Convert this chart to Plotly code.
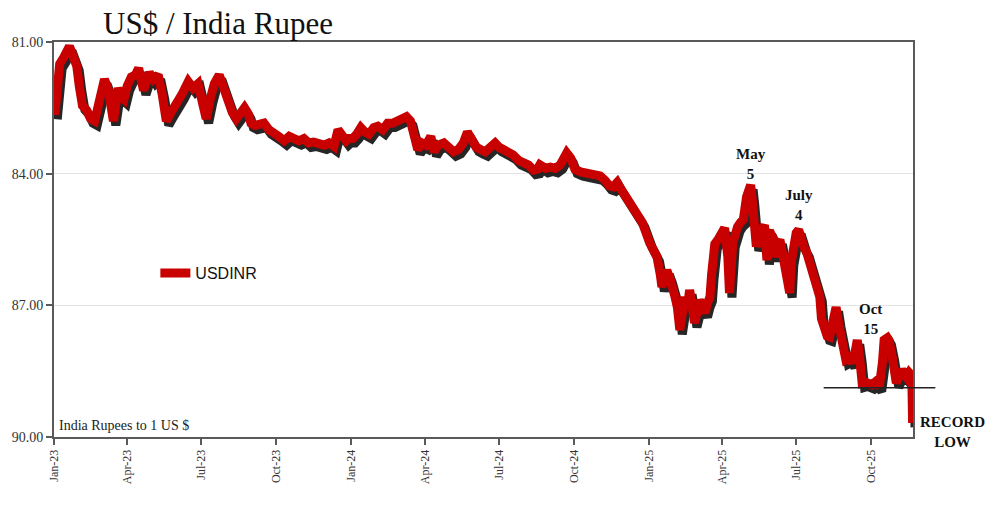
import plotly.graph_objects as go
import datetime as _dt

dates = [
    "2023-01-02", "2023-01-08", "2023-01-13", "2023-01-20", "2023-01-24", "2023-01-29",
    "2023-02-01", "2023-02-05", "2023-02-10", "2023-02-15", "2023-02-20", "2023-02-25",
    "2023-03-04", "2023-03-09", "2023-03-13", "2023-03-15", "2023-03-19", "2023-03-21",
    "2023-03-25", "2023-03-28", "2023-04-01", "2023-04-06", "2023-04-11", "2023-04-15",
    "2023-04-21", "2023-04-25", "2023-04-28", "2023-05-03", "2023-05-09", "2023-05-14",
    "2023-05-19", "2023-05-25", "2023-05-31", "2023-06-07", "2023-06-15", "2023-06-21",
    "2023-06-27", "2023-07-02", "2023-07-07", "2023-07-12", "2023-07-17", "2023-07-23",
    "2023-07-28", "2023-08-03", "2023-08-08", "2023-08-13", "2023-08-18", "2023-08-23",
    "2023-08-28", "2023-08-31", "2023-09-05", "2023-09-10", "2023-09-16", "2023-09-22",
    "2023-09-28", "2023-10-04", "2023-10-11", "2023-10-17", "2023-10-23", "2023-10-29",
    "2023-11-04", "2023-11-10", "2023-11-16", "2023-11-23", "2023-11-29", "2023-12-05",
    "2023-12-11", "2023-12-16", "2023-12-21", "2023-12-26", "2023-12-29",
    "2024-01-03", "2024-01-08", "2024-01-13", "2024-01-18", "2024-01-23", "2024-01-29",
    "2024-02-03", "2024-02-09", "2024-02-15", "2024-02-21", "2024-02-27", "2024-03-04",
    "2024-03-09", "2024-03-14", "2024-03-18", "2024-03-23", "2024-03-28", "2024-04-02",
    "2024-04-08", "2024-04-12", "2024-04-17", "2024-04-24", "2024-04-30", "2024-05-06",
    "2024-05-12", "2024-05-18", "2024-05-23", "2024-05-28", "2024-06-03", "2024-06-08",
    "2024-06-14", "2024-06-20", "2024-06-26", "2024-07-01", "2024-07-06", "2024-07-12",
    "2024-07-18", "2024-07-25", "2024-07-31", "2024-08-06", "2024-08-12", "2024-08-17",
    "2024-08-20", "2024-08-27", "2024-09-02", "2024-09-08", "2024-09-14", "2024-09-20",
    "2024-09-22", "2024-09-27", "2024-10-02", "2024-10-09", "2024-10-15", "2024-10-21",
    "2024-10-27", "2024-11-02", "2024-11-08", "2024-11-13", "2024-11-18", "2024-11-23",
    "2024-11-26", "2024-12-01", "2024-12-06", "2024-12-11", "2024-12-17", "2024-12-24",
    "2025-01-02", "2025-01-07", "2025-01-11", "2025-01-15", "2025-01-17", "2025-01-20",
    "2025-01-23", "2025-01-27", "2025-01-29", "2025-02-02", "2025-02-05", "2025-02-08",
    "2025-02-11", "2025-02-14", "2025-02-17", "2025-02-20", "2025-02-23", "2025-02-26",
    "2025-03-02", "2025-03-04", "2025-03-08", "2025-03-11", "2025-03-14", "2025-03-17",
    "2025-03-19", "2025-03-23", "2025-03-27", "2025-03-29", "2025-04-02", "2025-04-04",
    "2025-04-08", "2025-04-10", "2025-04-14", "2025-04-18", "2025-04-20", "2025-04-24",
    "2025-04-27", "2025-05-01", "2025-05-06", "2025-05-08", "2025-05-11", "2025-05-13",
    "2025-05-17", "2025-05-21", "2025-05-23", "2025-05-26", "2025-05-29", "2025-06-02",
    "2025-06-05", "2025-06-08", "2025-06-11", "2025-06-14", "2025-06-18", "2025-06-20",
    "2025-06-23", "2025-06-25", "2025-06-28", "2025-07-01", "2025-07-04", "2025-07-07",
    "2025-07-11", "2025-07-14", "2025-07-17", "2025-07-21", "2025-07-25", "2025-07-27",
    "2025-07-30", "2025-08-01", "2025-08-05", "2025-08-08", "2025-08-11", "2025-08-14",
    "2025-08-17", "2025-08-19", "2025-08-22", "2025-08-25", "2025-08-29", "2025-08-31",
    "2025-09-04", "2025-09-08", "2025-09-12", "2025-09-14", "2025-09-17", "2025-09-20",
    "2025-09-24", "2025-09-29", "2025-10-02", "2025-10-06", "2025-10-11", "2025-10-15",
    "2025-10-17", "2025-10-21", "2025-10-23", "2025-10-27", "2025-10-29", "2025-11-01",
    "2025-11-05", "2025-11-08", "2025-11-12", "2025-11-14", "2025-11-17", "2025-11-20",
    "2025-11-21",
]

usdinr = [
    82.66, 81.50, 81.35, 81.10, 81.30, 81.55,
    82.00, 82.45, 82.55, 82.75, 82.80, 82.40,
    81.85, 82.10, 82.50, 82.80, 82.30, 82.05,
    82.25, 82.30, 82.00, 81.80, 81.75, 81.60,
    82.10, 81.90, 81.70, 81.85, 81.75, 82.20,
    82.80, 82.60, 82.45, 82.20, 81.90, 82.05,
    81.95, 82.30, 82.75, 82.30, 81.95, 81.75,
    82.00, 82.40, 82.60, 82.75, 82.60, 82.50,
    82.65, 82.85, 82.90, 82.90, 82.85, 83.00,
    83.05, 83.15, 83.25, 83.15, 83.20, 83.25,
    83.20, 83.30, 83.28, 83.30, 83.35, 83.30,
    83.38, 83.00, 83.10, 83.25, 83.20,
    83.20, 83.10, 82.95, 83.05, 83.10, 82.95,
    82.92, 83.00, 82.85, 82.85, 82.80, 82.75,
    82.70, 82.80, 83.10, 83.45, 83.30, 83.35,
    83.15, 83.50, 83.35, 83.30, 83.40, 83.50,
    83.45, 83.30, 83.05, 83.20, 83.40, 83.45,
    83.50, 83.40, 83.30, 83.40, 83.45, 83.50,
    83.57, 83.70, 83.73, 83.80, 83.92, 83.90,
    83.80, 83.88, 83.85, 83.88, 83.80, 83.65,
    83.53, 83.65, 83.90, 83.96, 83.98, 84.00,
    84.02, 84.05, 84.15, 84.27, 84.30, 84.20,
    84.30, 84.45, 84.60, 84.70, 84.90, 85.12,
    85.58, 85.75, 85.90, 86.30, 86.58, 86.40,
    86.20, 86.40, 86.50, 86.80, 87.05, 87.56,
    87.20, 86.81, 87.10, 86.65, 87.00, 87.40,
    87.10, 86.88, 87.05, 87.17, 86.95, 86.81,
    86.30, 85.60, 85.50, 85.44, 85.35, 85.24,
    85.90, 86.72, 85.58, 85.30, 85.21, 85.10,
    85.05, 84.53, 84.26, 84.60, 85.20, 85.66,
    85.40, 85.30, 85.17, 85.97, 85.30, 85.45,
    85.90, 85.60, 85.51, 85.80, 86.20, 86.55,
    86.72, 86.00, 85.60, 85.35, 85.28, 85.50,
    85.70, 85.80, 86.00, 86.19, 86.45, 86.60,
    86.81, 87.30, 87.63, 87.70, 87.72, 87.50,
    87.20, 87.04, 87.40, 87.79, 88.10, 88.24,
    88.20, 88.31, 88.00, 87.79, 88.20, 88.77,
    88.75, 88.80, 88.81, 88.75, 88.86, 88.30,
    87.79, 87.74, 87.80, 88.17, 88.60, 88.77,
    88.60, 88.47, 88.60, 88.65, 88.54, 88.60,
    89.68,
]

y_ticks = [81, 84, 87, 90]
y_range = [90, 81]
x_range = ["2023-01-01T00:00:00", "2025-11-21T12:00:00"]
previous_low = 88.88

notes = [
    ("May<br>5", "2025-05-06", 83.78),
    ("July<br>4", "2025-07-04", 84.72),
    ("Oct<br>15", "2025-09-30", 87.31),
]
record_note = "RECORD<br>LOW"

SERIF = "Liberation Serif"
RED = "#c80000"

# shadow offsets (axis shift, in data units)
sh_dy = 0.10
sh_dx_days = 3


def _shift(d, days):
    base = _dt.datetime.fromisoformat(d)
    return (base - _dt.timedelta(days=days)).isoformat()


fig = go.Figure()

fig.add_trace(go.Scatter(
    x=dates, y=usdinr, mode="lines", xaxis="x2", yaxis="y2",
    line=dict(color="rgba(0,0,0,0.85)", width=9), showlegend=False, hoverinfo="skip",
))
fig.add_trace(go.Scatter(
    x=dates, y=usdinr, mode="lines", name="USDINR", xaxis="x3", yaxis="y3",
    line=dict(color=RED, width=9),
))

axis_common = dict(
    showline=True, linecolor="#5a5a5a", linewidth=2, mirror=True,
    ticks="outside", ticklen=6, tickcolor="#5a5a5a", tickwidth=1.5,
)

fig.update_layout(
    width=1000, height=521,
    margin=dict(l=52, r=87, t=42, b=84),
    paper_bgcolor="white", plot_bgcolor="white",
    title=dict(text="US$ / India Rupee", x=0.218, xanchor="center", y=0.955, yanchor="middle",
               font=dict(family=SERIF, size=31, color="#111")),
    xaxis=dict(type="date", range=x_range, dtick="M3", tick0="2023-01-01", tickformat="%b-%y",
               tickangle=-90, showgrid=False,
               tickfont=dict(family=SERIF, size=12, color="#333"), **axis_common),
    yaxis=dict(range=y_range, tickvals=y_ticks, tickformat=".2f", showgrid=True,
               gridcolor="#e3e3e3", gridwidth=1,
               tickfont=dict(family=SERIF, size=14, color="#333"), **axis_common),
    xaxis2=dict(type="date", overlaying="x", visible=False,
                range=[_shift(x_range[0], sh_dx_days), _shift(x_range[1], sh_dx_days)]),
    yaxis2=dict(overlaying="y", visible=False, range=[y_range[0] - sh_dy, y_range[1] - sh_dy]),
    xaxis3=dict(type="date", overlaying="x", visible=False, range=x_range),
    yaxis3=dict(overlaying="y", visible=False, range=y_range),
    legend=dict(x=0.118, y=0.415, xanchor="left", yanchor="middle", bgcolor="rgba(0,0,0,0)",
                font=dict(family="Liberation Sans", size=16, color="#111")),
    showlegend=True,
)

fig.add_shape(type="line", xref="paper", yref="y", x0=0.896, x1=1.026,
              y0=previous_low, y1=previous_low, line=dict(color="#222", width=1.5))

for text, xd, yv in notes:
    fig.add_annotation(text="<b>" + text + "</b>", x=xd, y=yv, xref="x", yref="y", showarrow=False,
                       font=dict(family=SERIF, size=15, color="#111"), align="center",
                       xanchor="center", yanchor="middle")

fig.add_annotation(text="<b>" + record_note + "</b>", x=1.0465, y=0.013, xref="paper", yref="paper",
                   showarrow=False, font=dict(family=SERIF, size=15, color="#111"), align="center",
                   xanchor="center", yanchor="middle")

fig.add_annotation(text="India Rupees to 1 US $", x=0.004, y=0.03, xref="paper", yref="paper",
                   xanchor="left", yanchor="middle", showarrow=False,
                   font=dict(family=SERIF, size=14, color="#222"))

fig.write_html("out.html")
